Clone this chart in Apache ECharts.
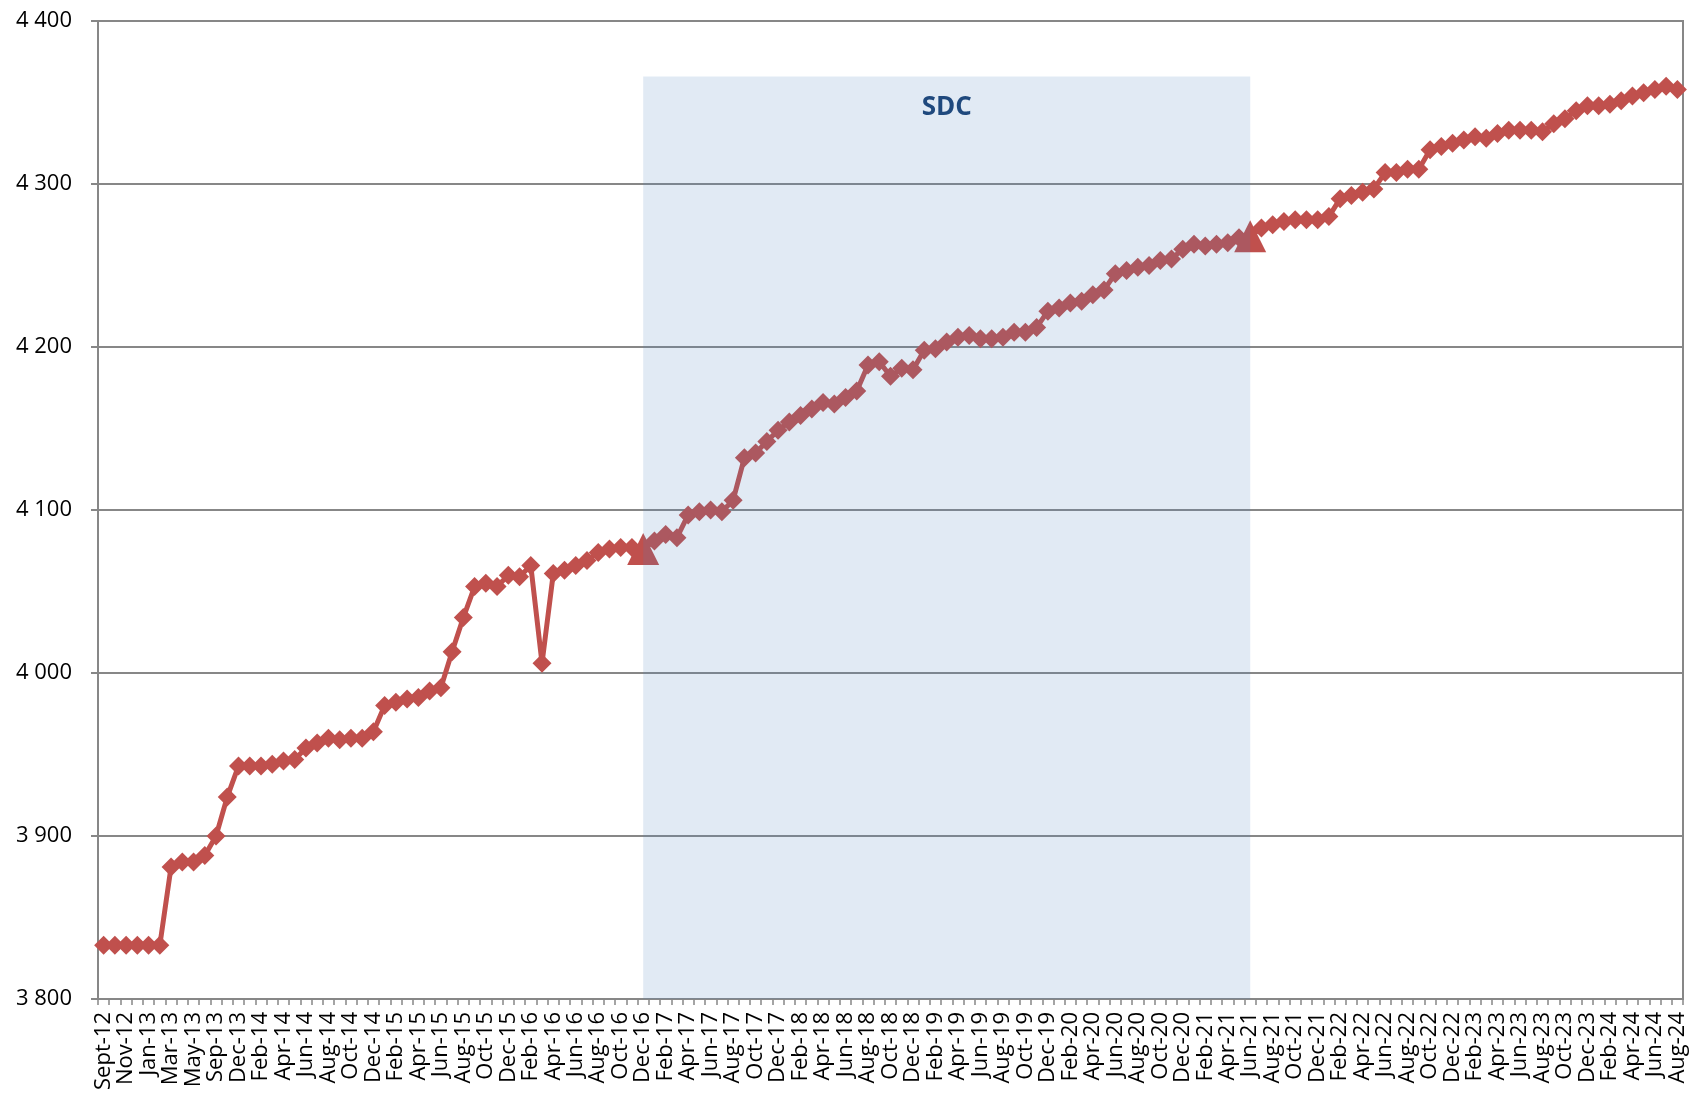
<!DOCTYPE html>
<html>
<head>
<meta charset="utf-8">
<script src="https://cdn.jsdelivr.net/npm/echarts@6/dist/echarts.min.js"></script>
<style>
html,body{margin:0;padding:0;background:#fff;}
#chart{width:1698px;height:1102px;}
</style>
</head>
<body>
<div id="chart"></div>
<script>
var categories = [
  'Sept-12','Oct-12','Nov-12','Dec-12','Jan-13','Feb-13','Mar-13','Apr-13','May-13','Jul-13','Sep-13','Nov-13',
  'Dec-13','Jan-14','Feb-14','Mar-14','Apr-14','May-14','Jun-14','Jul-14','Aug-14','Sep-14','Oct-14','Nov-14',
  'Dec-14','Jan-15','Feb-15','Mar-15','Apr-15','May-15','Jun-15','Jul-15','Aug-15','Sep-15','Oct-15','Nov-15',
  'Dec-15','Jan-16','Feb-16','Mar-16','Apr-16','May-16','Jun-16','Jul-16','Aug-16','Sep-16','Oct-16','Nov-16',
  'Dec-16','Jan-17','Feb-17','Mar-17','Apr-17','May-17','Jun-17','Jul-17','Aug-17','Sep-17','Oct-17','Nov-17',
  'Dec-17','Jan-18','Feb-18','Mar-18','Apr-18','May-18','Jun-18','Jul-18','Aug-18','Sep-18','Oct-18','Nov-18',
  'Dec-18','Jan-19','Feb-19','Mar-19','Apr-19','May-19','Jun-19','Jul-19','Aug-19','Sep-19','Oct-19','Nov-19',
  'Dec-19','Jan-20','Feb-20','Mar-20','Apr-20','May-20','Jun-20','Jul-20','Aug-20','Sep-20','Oct-20','Nov-20',
  'Dec-20','Jan-21','Feb-21','Mar-21','Apr-21','May-21','Jun-21','Jul-21','Aug-21','Sep-21','Oct-21','Nov-21',
  'Dec-21','Jan-22','Feb-22','Mar-22','Apr-22','May-22','Jun-22','Jul-22','Aug-22','Sep-22','Oct-22','Nov-22',
  'Dec-22','Jan-23','Feb-23','Mar-23','Apr-23','May-23','Jun-23','Jul-23','Aug-23','Sep-23','Oct-23','Nov-23',
  'Dec-23','Jan-24','Feb-24','Mar-24','Apr-24','May-24','Jun-24','Jul-24','Aug-24'
];

var values = [
  3833,3833,3833,3833,3833,3833,3881,3884,3884,3888,3900,3924,
  3943,3943,3943,3944,3946,3947,3954,3957,3960,3959,3960,3960,
  3964,3980,3982,3984,3985,3989,3991,4013,4034,4053,4055,4053,
  4060,4059,4066,4006,4061,4063,4066,4069,4074,4076,4077,4077,
  4076,4081,4085,4083,4097,4099,4100,4099,4106,4132,4135,4142,
  4149,4154,4158,4162,4166,4165,4169,4173,4189,4191,4182,4187,
  4186,4198,4199,4203,4206,4207,4205,4205,4206,4209,4209,4212,
  4222,4224,4227,4228,4232,4235,4245,4247,4249,4250,4253,4254,
  4260,4263,4262,4263,4264,4267,4268,4273,4275,4277,4278,4278,
  4278,4280,4291,4293,4295,4297,4307,4307,4309,4309,4321,4323,
  4325,4327,4329,4328,4331,4333,4333,4333,4332,4337,4340,4345,
  4348,4348,4349,4351,4354,4356,4358,4360,4358
];

var yTicks = [3800, 3900, 4000, 4100, 4200, 4300, 4400];

// SDC period (shaded band) and its marker points
var sdcStart = 'Dec-16';
var sdcEnd = 'Jun-21';
var sdcTop = 4366;
var sdcLabel = 'SDC';
var sdcLabelAt = 'Mar-19';
var sdcLabelValue = 4347;

var iStart = categories.indexOf(sdcStart);
var iEnd = categories.indexOf(sdcEnd);

var lineData = values.map(function (v, i) {
  if (i === iStart || i === iEnd) {
    return { value: v, symbol: 'triangle', symbolSize: 32 };
  }
  return v;
});

var areaData = categories.map(function (c, i) {
  return (i >= iStart && i <= iEnd) ? sdcTop : null;
});

var gray = '#878787';
var red = '#C0504D';

var chart = echarts.init(document.getElementById('chart'));
chart.setOption({
  animation: false,
  backgroundColor: '#ffffff',
  grid: {
    left: 98, right: 15, top: 21, bottom: 103,
    show: true, borderColor: gray, borderWidth: 2, backgroundColor: 'transparent'
  },
  xAxis: {
    type: 'category',
    data: categories,
    boundaryGap: true,
    axisLine: { show: true, lineStyle: { color: gray, width: 2 } },
    axisTick: { show: true, interval: 0, length: 6, lineStyle: { color: gray, width: 1.5 } },
    axisLabel: {
      interval: 1, rotate: 90, margin: 13,
      showMinLabel: true, showMaxLabel: true, hideOverlap: false,
      lineHeight: 22,
      fontFamily: 'Open Sans', fontSize: 22, color: '#000'
    },
    splitLine: { show: false }
  },
  yAxis: {
    type: 'value',
    min: yTicks[0], max: yTicks[yTicks.length - 1], interval: 100,
    axisLine: { show: true, lineStyle: { color: gray, width: 2 } },
    axisTick: { show: true, length: 7, lineStyle: { color: gray, width: 2 } },
    axisLabel: {
      margin: 26, fontFamily: 'Open Sans', fontSize: 22, color: '#000',
      formatter: function (v) { return String(v).replace(/\B(?=(\d{3})+(?!\d))/g, ' '); }
    },
    splitLine: { show: true, lineStyle: { color: gray, width: 2 } }
  },
  series: [
    {
      type: 'line',
      data: lineData,
      z: 2,
      symbol: 'diamond',
      symbolSize: 19,
      showAllSymbol: true,
      lineStyle: { color: red, width: 5 },
      itemStyle: { color: red },
      silent: true
    },
    {
      type: 'line',
      data: areaData,
      z: 4,
      symbol: 'none',
      lineStyle: { width: 0, opacity: 0 },
      areaStyle: { color: 'rgba(79,129,189,0.24)', origin: 'start' },
      silent: true,
      markPoint: {
        symbol: 'rect',
        symbolSize: 1,
        itemStyle: { color: 'rgba(0,0,0,0)' },
        label: {
          show: true, position: 'inside', formatter: sdcLabel,
          fontFamily: 'Open Sans', fontWeight: 'bold', fontSize: 26, color: '#1F497D'
        },
        data: [{ coord: [sdcLabelAt, sdcLabelValue] }]
      }
    }
  ]
});
</script>
</body>
</html>
